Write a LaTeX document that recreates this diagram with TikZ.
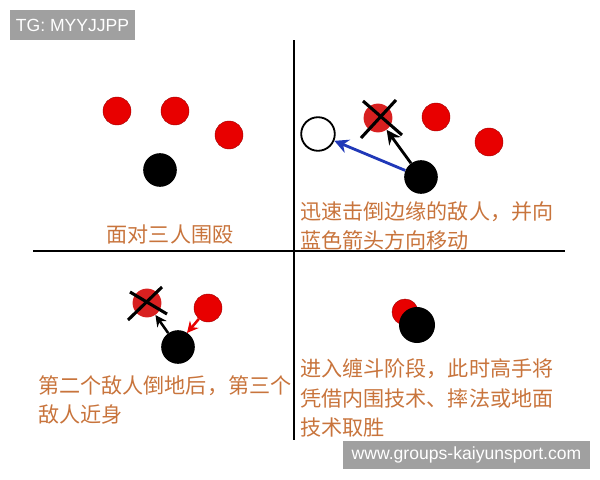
\documentclass[tikz,border=0pt]{standalone}
\usepackage{fontspec}
\setmainfont{Liberation Sans}
\newfontfamily\cjk{Noto Sans CJK SC}
\usetikzlibrary{arrows.meta}
\definecolor{redc}{HTML}{E80000}
\definecolor{redx}{HTML}{D82020}
\definecolor{txt}{HTML}{C8743C}
\definecolor{bluea}{HTML}{2038B8}
\definecolor{wm}{HTML}{A0A0A0}
\begin{document}
\begin{tikzpicture}[x=0.025cm,y=-0.025cm,
  enemy/.style={circle,fill=redc,draw=redc!70!black,line width=0.3pt,inner sep=0pt,minimum size=0.7cm},
  downed/.style={circle,fill=redx,inner sep=0pt,minimum size=0.72cm},
  me/.style={circle,fill=black,inner sep=0pt,minimum size=0.84cm},
  ghost/.style={circle,fill=white,draw=black,line width=1.3pt,inner sep=0pt,minimum size=0.84cm},
  cross/.style={line width=2.2pt,black},
  mv/.style={line width=2pt,-{Stealth[length=10pt,width=10pt]}},
  mvs/.style={line width=1.8pt,-{Stealth[length=8pt,width=8pt]}},
  captext/.style={font=\cjk\fontsize{15}{21}\selectfont,text=txt,inner sep=0pt,align=left},
  wmbox/.style={fill=wm,text=white,inner sep=0pt}]
\useasboundingbox (0,0) rectangle (600,480);
% axes
\coordinate (vt) at (294,40); \coordinate (vb) at (294,440);
\coordinate (hl) at (33,251); \coordinate (hr) at (565,251);
\draw[line width=1pt] (vt) -- (vb);
\draw[line width=1pt] (hl) -- (hr);
% quadrant 1
\node[enemy] (a1) at (117,111) {};
\node[enemy] (a2) at (175,111) {};
\node[enemy] (a3) at (229,135) {};
\node[me] (m1) at (160,170) {};
\node[captext,anchor=center] (t1) at (170,235) {面对三人围殴};
% quadrant 2
\node[ghost] (g2) at (318,134) {};
\node[downed] (b1) at (378,118) {};
\coordinate (x1a) at (363,101); \coordinate (x1b) at (402,135);
\coordinate (x2a) at (396,100); \coordinate (x2b) at (361,138);
\draw[cross] (x1a) -- (x1b);
\draw[cross] (x2a) -- (x2b);
\node[enemy] (b2) at (436,117) {};
\node[enemy] (b3) at (489,142) {};
\node[me] (m2) at (421,177) {};
\draw[mv,bluea] (m2) -- (g2);
\draw[mv,black] (m2) -- (b1);
\node[captext,anchor=west] (t2) at (300,226) {迅速击倒边缘的敌人，并向\\蓝色箭头方向移动};
% quadrant 3
\node[downed] (c1) at (147,303) {};
\coordinate (y1a) at (130,292); \coordinate (y1b) at (167,314);
\coordinate (y2a) at (162,287); \coordinate (y2b) at (128,320);
\draw[cross] (y1a) -- (y1b);
\draw[cross] (y2a) -- (y2b);
\node[enemy] (c2) at (208,308) {};
\node[me] (m3) at (178,347) {};
\coordinate (c2tip) at (187,333);
\draw[mvs,black] (m3) -- (c1);
\draw[mvs,redc] (c2) -- (c2tip);
\node[captext,anchor=west] (t3) at (38,400) {第二个敌人倒地后，第三个\\敌人近身};
% quadrant 4
\node[enemy,minimum size=0.65cm] (d1) at (405,312) {};
\node[me,minimum size=0.9cm] (m4) at (417,325) {};
\node[captext,anchor=west] (t4) at (300,398) {进入缠斗阶段，此时高手将\\凭借内围技术、摔法或地面\\技术取胜};
% labels
\node[wmbox,minimum width=3.125cm,minimum height=0.75cm,font=\fontsize{12.5}{14}\selectfont] (tg) at (72.5,25) {TG: MYYJJPP};
\node[wmbox,minimum width=6.175cm,minimum height=0.7cm,font=\fontsize{12.5}{14}\selectfont] (url) at (466.5,455) {www.groups-kaiyunsport.com};
\end{tikzpicture}
\end{document}
